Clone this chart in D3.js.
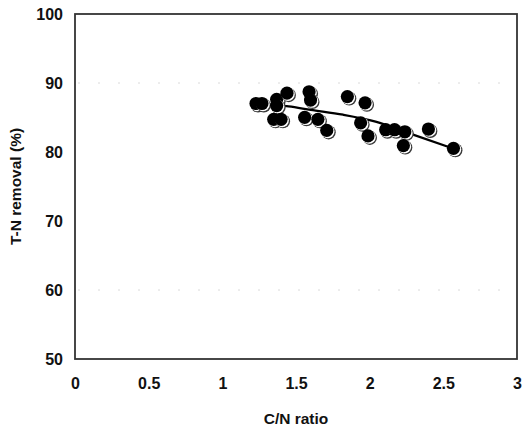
<!DOCTYPE html>
<html>
<head>
<meta charset="utf-8">
<script src="https://cdn.jsdelivr.net/npm/d3@7"></script>
<style>
  body { margin: 0; background: #fff; }
  text { font-family: "Liberation Sans", Arial, sans-serif; font-weight: bold; fill: #111; }
</style>
</head>
<body>
<div id="chart"></div>
<script>
// C/N ratio vs T-N removal (%)
const cnRatio = [1.23, 1.27, 1.37, 1.37, 1.44, 1.35, 1.40, 1.59, 1.60, 1.56, 1.65, 1.71,
                 1.85, 1.97, 1.94, 1.99, 2.11, 2.17, 2.24, 2.23, 2.40, 2.57];
const tnRemoval = [87.0, 87.0, 87.6, 86.7, 88.5, 84.7, 84.7, 88.7, 87.5, 85.0, 84.7, 83.1,
                   88.0, 87.1, 84.2, 82.3, 83.2, 83.2, 82.9, 80.9, 83.3, 80.5];

// trend curve as seen in the figure
const trendX = [1.23, 1.45, 1.6, 1.82, 2.04, 2.27, 2.58];
const trendY = [87.0, 86.6, 86.1, 85.4, 84.4, 82.7, 80.4];

const xTicks = [0, 0.5, 1, 1.5, 2, 2.5, 3];
const yTicks = [50, 60, 70, 80, 90, 100];
const gridValues = [60, 90];

const width = 522, height = 436;
const margin = {top: 14, right: 5, bottom: 77, left: 75};

const svg = d3.select('#chart').append('svg')
    .attr('width', width)
    .attr('height', height);

const x = d3.scaleLinear().domain([0, 3]).range([margin.left, width - margin.right]);
const y = d3.scaleLinear().domain([50, 100]).range([height - margin.bottom, margin.top]);

// faint gridlines (barely visible in the scan)
svg.append('g').selectAll('line')
    .data(gridValues)
    .join('line')
    .attr('x1', x(0) + 3).attr('x2', x(3) - 3)
    .attr('y1', d => y(d)).attr('y2', d => y(d))
    .attr('stroke', '#dadada')
    .attr('stroke-width', 1)
    .attr('stroke-dasharray', '2,18');

// axes (labels only, no tick marks)
const xAxis = svg.append('g')
    .attr('transform', `translate(0,${y(50)})`)
    .call(d3.axisBottom(x).tickValues(xTicks).tickSize(0).tickPadding(19).tickFormat(d3.format('')));
xAxis.select('.domain').remove();
xAxis.selectAll('text').style('font-size', '16px').attr('fill', '#111');

const yAxis = svg.append('g')
    .attr('transform', `translate(${x(0)},0)`)
    .call(d3.axisLeft(y).tickValues(yTicks).tickSize(0).tickPadding(12));
yAxis.select('.domain').remove();
yAxis.selectAll('text').style('font-size', '16px').attr('fill', '#111');

// plot frame
svg.append('rect')
    .attr('x', x(0)).attr('y', y(100))
    .attr('width', x(3) - x(0)).attr('height', y(50) - y(100))
    .attr('fill', 'none')
    .attr('stroke', '#333')
    .attr('stroke-width', 1.8);

// trend line
const trend = trendX.map((d, i) => [d, trendY[i]]);
svg.append('path')
    .datum(trend)
    .attr('fill', 'none')
    .attr('stroke', '#000')
    .attr('stroke-width', 2.3)
    .attr('d', d3.line().x(d => x(d[0])).y(d => y(d[1])).curve(d3.curveMonotoneX));

// points: shadow, white rim, black ball
const pts = cnRatio.map((d, i) => ({cn: d, tn: tnRemoval[i]}));
const g = svg.append('g');
pts.forEach(p => {
    const cx = x(p.cn), cy = y(p.tn);
    g.append('circle').attr('cx', cx + 1.7).attr('cy', cy + 1.7).attr('r', 7.1).attr('fill', '#3a3a3a');
    g.append('circle').attr('cx', cx + 0.9).attr('cy', cy + 0.9).attr('r', 6.7).attr('fill', '#fff');
    g.append('circle').attr('cx', cx - 0.2).attr('cy', cy - 0.2).attr('r', 6.6).attr('fill', '#000');
});

// axis titles
svg.append('text')
    .attr('x', (x(0) + x(3)) / 2)
    .attr('y', 424)
    .attr('text-anchor', 'middle')
    .style('font-size', '15.5px')
    .text('C/N ratio');

svg.append('text')
    .attr('transform', `translate(21,${(y(50) + y(100)) / 2}) rotate(-90)`)
    .attr('text-anchor', 'middle')
    .style('font-size', '15.5px')
    .text('T-N removal (%)');
</script>
</body>
</html>
